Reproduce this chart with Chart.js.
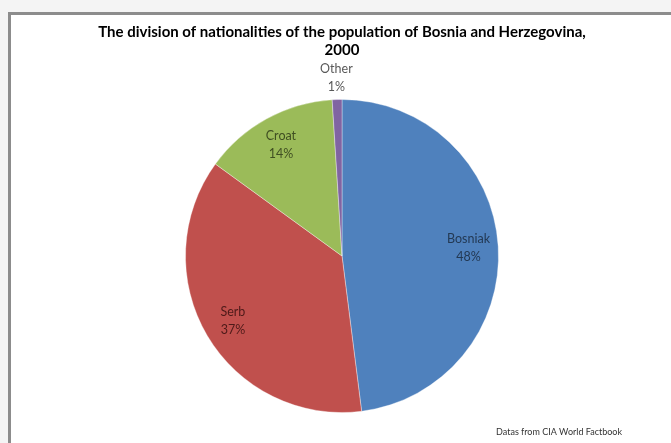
<!DOCTYPE html>
<html>
<head>
<meta charset="utf-8">
<script src="https://cdn.jsdelivr.net/npm/chart.js@4.4.1/dist/chart.umd.min.js"></script>
<style>
    html, body { margin: 0; padding: 0; background: #f4f4f4; overflow: hidden; }
    #frame {
        position: absolute; left: 8px; top: 12px;
        width: 700px; height: 460px;
        border: 3px solid #8c8c8c; background: #fff;
    }
    #wrap { position: absolute; left: 0; top: 0; width: 671px; height: 443px; }
</style>
</head>
<body>
<div id="frame"></div>
<div id="wrap"><canvas id="pieChart"></canvas></div>
<script>
/* ------------------------------------------------------------
   DATA
------------------------------------------------------------- */
const nationalities = ["Bosniak", "Serb", "Croat", "Other"];
const shares = [48, 37, 14, 1];
const titleLines = ["The division of nationalities of the population of Bosnia and Herzegovina,", "2000"];
const sourceNote = "Datas from CIA World Factbook";


/* ------------------------------------------------------------
   LABELS — Excel-style name + percent on each slice
------------------------------------------------------------- */
const labelColors = ["#233954", "#4d1a19", "#3f4e22", "#595959"];

const sliceLabels = {
    id: "sliceLabels",
    afterDatasetsDraw(chart) {
        const ctx = chart.ctx;
        const arcs = chart.getDatasetMeta(0).data;
        const total = shares.reduce((a, b) => a + b, 0);

        ctx.save();
        ctx.font = "12.5px Lato";
        ctx.textAlign = "center";
        ctx.textBaseline = "middle";

        arcs.forEach((arc, i) => {
            const mid = (arc.startAngle + arc.endAngle) / 2;
            const small = shares[i] / total < 0.03;
            const r = small ? arc.outerRadius + 22 : arc.outerRadius * 0.81;
            const x = arc.x + Math.cos(mid) * r;
            const y = arc.y + Math.sin(mid) * r;
            const pct = Math.round(shares[i] / total * 100) + "%";

            ctx.fillStyle = labelColors[i];
            ctx.fillText(nationalities[i], x, y - 9);
            ctx.fillText(pct, x, y + 9);
        });

        // source note, bottom right
        ctx.font = "9px Lato";
        ctx.textAlign = "right";
        ctx.fillStyle = "#333";
        ctx.fillText(sourceNote, 622, 432);
        ctx.restore();
    }
};


/* ------------------------------------------------------------
   PIE
------------------------------------------------------------- */
const pieCanvas = document.querySelector("#pieChart");

new Chart(pieCanvas, {
    type: "pie",
    data: {
        labels: nationalities,
        datasets: [{
            data: shares,
            backgroundColor: ["#4f81bd", "#c0504d", "#9bbb59", "#8064a2"],
            borderColor: "rgba(255,255,255,0.35)",
            borderWidth: 1
        }]
    },
    options: {
        responsive: true,
        maintainAspectRatio: false,
        animation: false,
        layout: { padding: { top: 0, bottom: 30, left: 13, right: 0 } },
        plugins: {
            legend: { display: false },
            tooltip: { enabled: false },
            title: {
                display: true,
                text: titleLines,
                color: "#000",
                font: { family: "Lato", size: 15, weight: "bold", lineHeight: 1.2 },
                padding: { top: 23, bottom: 40 }
            }
        }
    },
    plugins: [sliceLabels]
});
</script>
</body>
</html>
